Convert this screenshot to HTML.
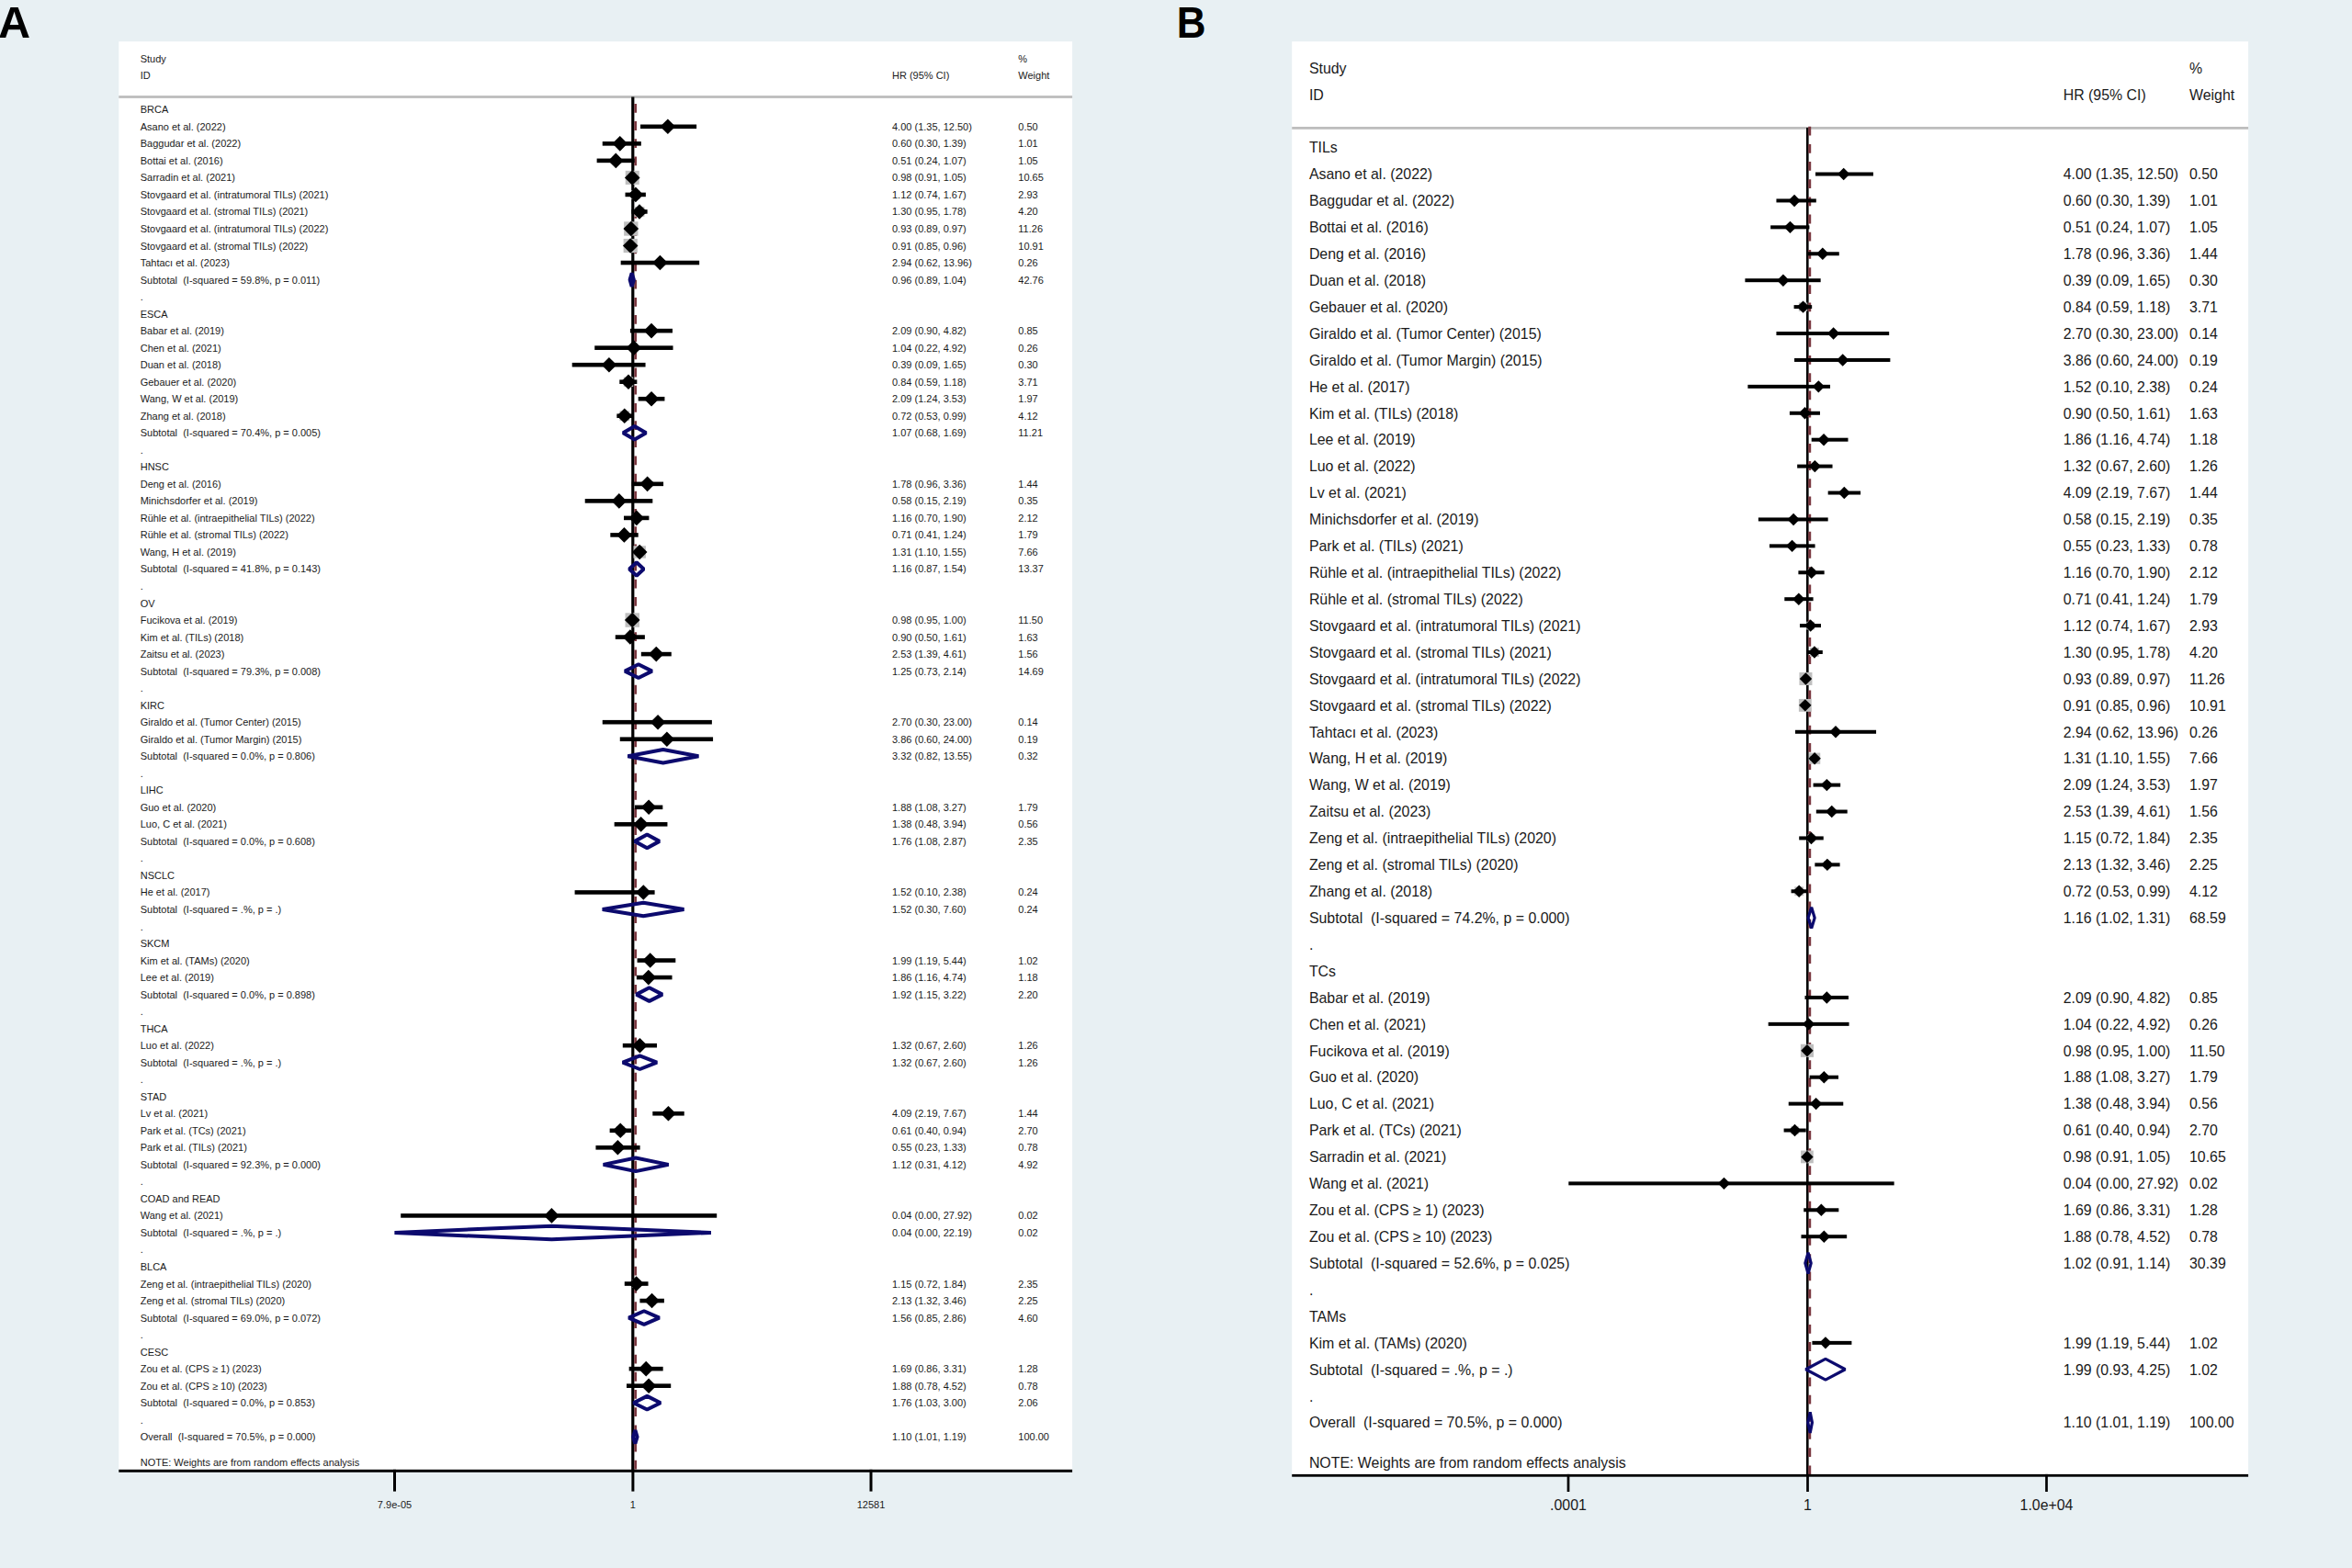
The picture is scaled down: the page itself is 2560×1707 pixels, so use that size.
<!DOCTYPE html>
<html><head><meta charset="utf-8"><title>Forest plot</title>
<style>html,body{margin:0;padding:0;background:#e8f0f3;}svg{display:block;}text{white-space:pre;}</style>
</head><body>
<svg width="2560" height="1707" viewBox="0 0 2560 1707" font-family="'Liberation Sans', sans-serif" fill="#1a1a1a" style="white-space:pre">
<rect width="2560" height="1707" fill="#e8f0f3"/>
<text transform="translate(-1.9 40.8)" font-size="48.6" font-weight="bold" fill="#000">A</text>
<text transform="translate(1280.7 40.9) scale(0.907 1)" font-size="48.5" font-weight="bold" fill="#000">B</text>
<rect x="129.3" y="45.2" width="1037.80" height="1555.80" fill="#fff"/>
<rect x="129.3" y="104.1" width="1037.80" height="2.8" fill="#bdbdbd"/>
<text x="152.7" y="67.6" font-size="11">Study</text>
<text x="152.7" y="85.8" font-size="11">ID</text>
<text x="971.0" y="85.8" font-size="11">HR (95% CI)</text>
<text x="1108.3" y="67.6" font-size="11">%</text>
<text x="1108.3" y="85.8" font-size="11">Weight</text>
<rect x="687.20" y="105.5" width="3.2" height="1495.50" fill="#000"/>
<line x1="691.67" y1="105.0" x2="691.67" y2="1601.0" stroke="#7a3840" stroke-width="2.8" stroke-dasharray="9.8 9.38" stroke-dashoffset="11.28"/>
<rect x="724.28" y="135.24" width="5.16" height="5.16" fill="#bfbfbf"/>
<rect x="671.47" y="153.05" width="6.60" height="6.60" fill="#bfbfbf"/>
<rect x="666.97" y="171.53" width="6.69" height="6.69" fill="#bfbfbf"/>
<rect x="680.72" y="185.87" width="15.06" height="15.06" fill="#bfbfbf"/>
<rect x="687.12" y="207.13" width="9.59" height="9.59" fill="#bfbfbf"/>
<rect x="690.57" y="225.01" width="10.87" height="10.87" fill="#bfbfbf"/>
<rect x="679.13" y="241.30" width="15.36" height="15.36" fill="#bfbfbf"/>
<rect x="678.62" y="259.91" width="15.19" height="15.19" fill="#bfbfbf"/>
<rect x="716.35" y="283.97" width="4.11" height="4.11" fill="#bfbfbf"/>
<rect x="705.93" y="357.02" width="6.22" height="6.22" fill="#bfbfbf"/>
<rect x="687.82" y="376.60" width="4.11" height="4.11" fill="#bfbfbf"/>
<rect x="660.79" y="395.02" width="4.32" height="4.32" fill="#bfbfbf"/>
<rect x="678.81" y="410.49" width="10.41" height="10.41" fill="#bfbfbf"/>
<rect x="704.87" y="430.05" width="8.34" height="8.34" fill="#bfbfbf"/>
<rect x="674.38" y="447.35" width="10.80" height="10.80" fill="#bfbfbf"/>
<rect x="700.89" y="523.11" width="7.48" height="7.48" fill="#bfbfbf"/>
<rect x="671.57" y="543.10" width="4.56" height="4.56" fill="#bfbfbf"/>
<rect x="688.60" y="559.62" width="8.56" height="8.56" fill="#bfbfbf"/>
<rect x="675.36" y="578.39" width="8.07" height="8.07" fill="#bfbfbf"/>
<rect x="689.50" y="594.24" width="13.42" height="13.42" fill="#bfbfbf"/>
<rect x="680.51" y="667.32" width="15.47" height="15.47" fill="#bfbfbf"/>
<rect x="682.00" y="689.67" width="7.81" height="7.81" fill="#bfbfbf"/>
<rect x="710.44" y="708.26" width="7.69" height="7.69" fill="#bfbfbf"/>
<rect x="714.42" y="784.55" width="3.31" height="3.31" fill="#bfbfbf"/>
<rect x="724.04" y="802.89" width="3.68" height="3.68" fill="#bfbfbf"/>
<rect x="702.10" y="874.79" width="8.07" height="8.07" fill="#bfbfbf"/>
<rect x="694.96" y="894.66" width="5.37" height="5.37" fill="#bfbfbf"/>
<rect x="698.30" y="969.45" width="3.99" height="3.99" fill="#bfbfbf"/>
<rect x="704.38" y="1042.24" width="6.63" height="6.63" fill="#bfbfbf"/>
<rect x="702.35" y="1060.59" width="6.97" height="6.97" fill="#bfbfbf"/>
<rect x="692.86" y="1134.61" width="7.13" height="7.13" fill="#bfbfbf"/>
<rect x="723.73" y="1208.54" width="7.48" height="7.48" fill="#bfbfbf"/>
<rect x="670.57" y="1226.14" width="9.32" height="9.32" fill="#bfbfbf"/>
<rect x="669.37" y="1246.31" width="6.03" height="6.03" fill="#bfbfbf"/>
<rect x="599.59" y="1322.59" width="1.67" height="1.67" fill="#bfbfbf"/>
<rect x="688.20" y="1393.09" width="8.87" height="8.87" fill="#bfbfbf"/>
<rect x="705.19" y="1411.68" width="8.74" height="8.74" fill="#bfbfbf"/>
<rect x="699.62" y="1486.56" width="7.17" height="7.17" fill="#bfbfbf"/>
<rect x="703.12" y="1505.66" width="6.03" height="6.03" fill="#bfbfbf"/>
<rect x="697.04" y="135.52" width="61.10" height="4.6" fill="#000"/>
<rect x="655.74" y="154.05" width="42.10" height="4.6" fill="#000"/>
<rect x="649.62" y="172.57" width="41.04" height="4.6" fill="#000"/>
<rect x="686.21" y="191.10" width="3.93" height="4.6" fill="#000"/>
<rect x="680.53" y="209.62" width="22.35" height="4.6" fill="#000"/>
<rect x="687.39" y="228.15" width="17.24" height="4.6" fill="#000"/>
<rect x="685.60" y="246.67" width="2.36" height="4.6" fill="#000"/>
<rect x="684.34" y="265.20" width="3.34" height="4.6" fill="#000"/>
<rect x="675.68" y="283.72" width="85.50" height="4.6" fill="#000"/>
<rect x="685.91" y="357.82" width="46.07" height="4.6" fill="#000"/>
<rect x="647.23" y="376.35" width="85.31" height="4.6" fill="#000"/>
<rect x="622.69" y="394.88" width="79.86" height="4.6" fill="#000"/>
<rect x="674.31" y="413.40" width="19.03" height="4.6" fill="#000"/>
<rect x="694.71" y="431.92" width="28.72" height="4.6" fill="#000"/>
<rect x="671.37" y="450.45" width="17.15" height="4.6" fill="#000"/>
<rect x="687.68" y="524.55" width="34.39" height="4.6" fill="#000"/>
<rect x="636.71" y="543.08" width="73.61" height="4.6" fill="#000"/>
<rect x="679.01" y="561.60" width="27.41" height="4.6" fill="#000"/>
<rect x="664.32" y="580.12" width="30.38" height="4.6" fill="#000"/>
<rect x="691.42" y="598.65" width="9.42" height="4.6" fill="#000"/>
<rect x="687.39" y="672.75" width="1.41" height="4.6" fill="#000"/>
<rect x="669.77" y="691.27" width="32.11" height="4.6" fill="#000"/>
<rect x="697.84" y="709.80" width="32.92" height="4.6" fill="#000"/>
<rect x="655.74" y="783.90" width="119.14" height="4.6" fill="#000"/>
<rect x="674.78" y="802.42" width="101.28" height="4.6" fill="#000"/>
<rect x="690.91" y="876.52" width="30.42" height="4.6" fill="#000"/>
<rect x="668.65" y="895.05" width="57.80" height="4.6" fill="#000"/>
<rect x="625.58" y="969.15" width="87.02" height="4.6" fill="#000"/>
<rect x="693.58" y="1043.25" width="41.73" height="4.6" fill="#000"/>
<rect x="692.87" y="1061.78" width="38.65" height="4.6" fill="#000"/>
<rect x="677.80" y="1135.88" width="37.23" height="4.6" fill="#000"/>
<rect x="710.32" y="1209.97" width="34.41" height="4.6" fill="#000"/>
<rect x="663.64" y="1228.50" width="23.46" height="4.6" fill="#000"/>
<rect x="648.45" y="1247.02" width="48.18" height="4.6" fill="#000"/>
<rect x="436.20" y="1321.12" width="344.00" height="4.6" fill="#000"/>
<rect x="679.78" y="1395.22" width="25.76" height="4.6" fill="#000"/>
<rect x="696.42" y="1413.75" width="26.46" height="4.6" fill="#000"/>
<rect x="684.66" y="1487.85" width="37.00" height="4.6" fill="#000"/>
<rect x="681.98" y="1506.38" width="48.24" height="4.6" fill="#000"/>
<path d="M726.86 129.52L735.16 137.82L726.86 146.12L718.56 137.82Z" fill="#000"/>
<path d="M674.78 148.05L683.08 156.35L674.78 164.65L666.48 156.35Z" fill="#000"/>
<path d="M670.31 166.57L678.61 174.88L670.31 183.18L662.01 174.88Z" fill="#000"/>
<path d="M688.25 185.10L696.55 193.40L688.25 201.70L679.95 193.40Z" fill="#000"/>
<path d="M691.91 203.62L700.21 211.93L691.91 220.23L683.61 211.93Z" fill="#000"/>
<path d="M696.00 222.15L704.30 230.45L696.00 238.75L687.70 230.45Z" fill="#000"/>
<path d="M686.81 240.67L695.11 248.97L686.81 257.27L678.51 248.97Z" fill="#000"/>
<path d="M686.21 259.20L694.51 267.50L686.21 275.80L677.91 267.50Z" fill="#000"/>
<path d="M718.41 277.72L726.71 286.02L718.41 294.32L710.11 286.02Z" fill="#000"/>
<path d="M709.04 351.82L717.34 360.12L709.04 368.43L700.74 360.12Z" fill="#000"/>
<path d="M689.88 370.35L698.18 378.65L689.88 386.95L681.58 378.65Z" fill="#000"/>
<path d="M662.95 388.88L671.25 397.18L662.95 405.48L654.65 397.18Z" fill="#000"/>
<path d="M684.01 407.40L692.31 415.70L684.01 424.00L675.71 415.70Z" fill="#000"/>
<path d="M709.04 425.92L717.34 434.22L709.04 442.52L700.74 434.22Z" fill="#000"/>
<path d="M679.78 444.45L688.08 452.75L679.78 461.05L671.48 452.75Z" fill="#000"/>
<path d="M704.63 518.55L712.93 526.85L704.63 535.15L696.33 526.85Z" fill="#000"/>
<path d="M673.84 537.08L682.14 545.38L673.84 553.67L665.54 545.38Z" fill="#000"/>
<path d="M692.87 555.60L701.17 563.90L692.87 572.20L684.57 563.90Z" fill="#000"/>
<path d="M679.40 574.12L687.70 582.42L679.40 590.72L671.10 582.42Z" fill="#000"/>
<path d="M696.21 592.65L704.51 600.95L696.21 609.25L687.91 600.95Z" fill="#000"/>
<path d="M688.25 666.75L696.55 675.05L688.25 683.35L679.95 675.05Z" fill="#000"/>
<path d="M685.91 685.27L694.21 693.57L685.91 701.87L677.61 693.57Z" fill="#000"/>
<path d="M714.28 703.80L722.58 712.10L714.28 720.40L705.98 712.10Z" fill="#000"/>
<path d="M716.07 777.90L724.37 786.20L716.07 794.50L707.77 786.20Z" fill="#000"/>
<path d="M725.88 796.42L734.18 804.72L725.88 813.02L717.58 804.72Z" fill="#000"/>
<path d="M706.13 870.52L714.43 878.82L706.13 887.12L697.83 878.82Z" fill="#000"/>
<path d="M697.64 889.05L705.94 897.35L697.64 905.65L689.34 897.35Z" fill="#000"/>
<path d="M700.30 963.15L708.60 971.45L700.30 979.75L692.00 971.45Z" fill="#000"/>
<path d="M707.69 1037.25L715.99 1045.55L707.69 1053.85L699.39 1045.55Z" fill="#000"/>
<path d="M705.84 1055.78L714.14 1064.08L705.84 1072.38L697.54 1064.08Z" fill="#000"/>
<path d="M696.42 1129.88L704.72 1138.17L696.42 1146.47L688.12 1138.17Z" fill="#000"/>
<path d="M727.47 1203.97L735.77 1212.27L727.47 1220.57L719.17 1212.27Z" fill="#000"/>
<path d="M675.23 1222.50L683.53 1230.80L675.23 1239.10L666.93 1230.80Z" fill="#000"/>
<path d="M672.39 1241.02L680.69 1249.32L672.39 1257.62L664.09 1249.32Z" fill="#000"/>
<path d="M600.43 1315.12L608.73 1323.42L600.43 1331.72L592.13 1323.42Z" fill="#000"/>
<path d="M692.64 1389.22L700.94 1397.52L692.64 1405.82L684.34 1397.52Z" fill="#000"/>
<path d="M709.56 1407.75L717.86 1416.05L709.56 1424.35L701.26 1416.05Z" fill="#000"/>
<path d="M703.21 1481.85L711.51 1490.15L703.21 1498.45L694.91 1490.15Z" fill="#000"/>
<path d="M706.13 1500.38L714.43 1508.67L706.13 1516.97L697.83 1508.67Z" fill="#000"/>
<path d="M685.60 304.55L687.68 297.25L689.88 304.55L687.68 311.85Z" fill="none" stroke="#0c0a6e" stroke-width="4.0" stroke-linejoin="bevel"/>
<path d="M678.21 471.27L690.66 463.97L703.21 471.27L690.66 478.57Z" fill="none" stroke="#0c0a6e" stroke-width="4.0" stroke-linejoin="bevel"/>
<path d="M684.98 619.47L692.87 612.17L700.65 619.47L692.87 626.77Z" fill="none" stroke="#0c0a6e" stroke-width="4.0" stroke-linejoin="bevel"/>
<path d="M680.16 730.62L694.93 723.32L709.69 730.62L694.93 737.92Z" fill="none" stroke="#0c0a6e" stroke-width="4.0" stroke-linejoin="bevel"/>
<path d="M683.35 823.25L721.75 815.95L760.36 823.25L721.75 830.55Z" fill="none" stroke="#0c0a6e" stroke-width="4.0" stroke-linejoin="bevel"/>
<path d="M690.91 915.87L704.32 908.57L717.75 915.87L704.32 923.17Z" fill="none" stroke="#0c0a6e" stroke-width="4.0" stroke-linejoin="bevel"/>
<path d="M655.74 989.97L700.30 982.67L744.48 989.97L700.30 997.27Z" fill="none" stroke="#0c0a6e" stroke-width="4.0" stroke-linejoin="bevel"/>
<path d="M692.64 1082.60L706.71 1075.30L720.91 1082.60L706.71 1089.90Z" fill="none" stroke="#0c0a6e" stroke-width="4.0" stroke-linejoin="bevel"/>
<path d="M677.80 1156.70L696.42 1149.40L715.03 1156.70L696.42 1164.00Z" fill="none" stroke="#0c0a6e" stroke-width="4.0" stroke-linejoin="bevel"/>
<path d="M656.65 1267.85L691.91 1260.55L727.67 1267.85L691.91 1275.15Z" fill="none" stroke="#0c0a6e" stroke-width="4.0" stroke-linejoin="bevel"/>
<path d="M429.46 1341.95L600.43 1334.65L773.90 1341.95L600.43 1349.25Z" fill="none" stroke="#0c0a6e" stroke-width="4.0" stroke-linejoin="bevel"/>
<path d="M684.34 1434.57L701.01 1427.27L717.65 1434.57L701.01 1441.87Z" fill="none" stroke="#0c0a6e" stroke-width="4.0" stroke-linejoin="bevel"/>
<path d="M689.61 1527.20L704.32 1519.90L718.96 1527.20L704.32 1534.50Z" fill="none" stroke="#0c0a6e" stroke-width="4.0" stroke-linejoin="bevel"/>
<path d="M689.07 1564.25L691.42 1556.95L693.58 1564.25L691.42 1571.55Z" fill="none" stroke="#0c0a6e" stroke-width="4.0" stroke-linejoin="bevel"/>
<text x="152.7" y="123.30" font-size="11">BRCA</text>
<text x="152.7" y="141.82" font-size="11">Asano et al. (2022)</text>
<text x="971.0" y="141.82" font-size="11">4.00 (1.35, 12.50)</text>
<text x="1108.3" y="141.82" font-size="11">0.50</text>
<text x="152.7" y="160.35" font-size="11">Baggudar et al. (2022)</text>
<text x="971.0" y="160.35" font-size="11">0.60 (0.30, 1.39)</text>
<text x="1108.3" y="160.35" font-size="11">1.01</text>
<text x="152.7" y="178.88" font-size="11">Bottai et al. (2016)</text>
<text x="971.0" y="178.88" font-size="11">0.51 (0.24, 1.07)</text>
<text x="1108.3" y="178.88" font-size="11">1.05</text>
<text x="152.7" y="197.40" font-size="11">Sarradin et al. (2021)</text>
<text x="971.0" y="197.40" font-size="11">0.98 (0.91, 1.05)</text>
<text x="1108.3" y="197.40" font-size="11">10.65</text>
<text x="152.7" y="215.93" font-size="11">Stovgaard et al. (intratumoral TILs) (2021)</text>
<text x="971.0" y="215.93" font-size="11">1.12 (0.74, 1.67)</text>
<text x="1108.3" y="215.93" font-size="11">2.93</text>
<text x="152.7" y="234.45" font-size="11">Stovgaard et al. (stromal TILs) (2021)</text>
<text x="971.0" y="234.45" font-size="11">1.30 (0.95, 1.78)</text>
<text x="1108.3" y="234.45" font-size="11">4.20</text>
<text x="152.7" y="252.97" font-size="11">Stovgaard et al. (intratumoral TILs) (2022)</text>
<text x="971.0" y="252.97" font-size="11">0.93 (0.89, 0.97)</text>
<text x="1108.3" y="252.97" font-size="11">11.26</text>
<text x="152.7" y="271.50" font-size="11">Stovgaard et al. (stromal TILs) (2022)</text>
<text x="971.0" y="271.50" font-size="11">0.91 (0.85, 0.96)</text>
<text x="1108.3" y="271.50" font-size="11">10.91</text>
<text x="152.7" y="290.02" font-size="11">Tahtacı et al. (2023)</text>
<text x="971.0" y="290.02" font-size="11">2.94 (0.62, 13.96)</text>
<text x="1108.3" y="290.02" font-size="11">0.26</text>
<text x="152.7" y="308.55" font-size="11">Subtotal  (I-squared = 59.8%, p = 0.011)</text>
<text x="971.0" y="308.55" font-size="11">0.96 (0.89, 1.04)</text>
<text x="1108.3" y="308.55" font-size="11">42.76</text>
<text x="152.7" y="327.07" font-size="11">.</text>
<text x="152.7" y="345.60" font-size="11">ESCA</text>
<text x="152.7" y="364.12" font-size="11">Babar et al. (2019)</text>
<text x="971.0" y="364.12" font-size="11">2.09 (0.90, 4.82)</text>
<text x="1108.3" y="364.12" font-size="11">0.85</text>
<text x="152.7" y="382.65" font-size="11">Chen et al. (2021)</text>
<text x="971.0" y="382.65" font-size="11">1.04 (0.22, 4.92)</text>
<text x="1108.3" y="382.65" font-size="11">0.26</text>
<text x="152.7" y="401.18" font-size="11">Duan et al. (2018)</text>
<text x="971.0" y="401.18" font-size="11">0.39 (0.09, 1.65)</text>
<text x="1108.3" y="401.18" font-size="11">0.30</text>
<text x="152.7" y="419.70" font-size="11">Gebauer et al. (2020)</text>
<text x="971.0" y="419.70" font-size="11">0.84 (0.59, 1.18)</text>
<text x="1108.3" y="419.70" font-size="11">3.71</text>
<text x="152.7" y="438.22" font-size="11">Wang, W et al. (2019)</text>
<text x="971.0" y="438.22" font-size="11">2.09 (1.24, 3.53)</text>
<text x="1108.3" y="438.22" font-size="11">1.97</text>
<text x="152.7" y="456.75" font-size="11">Zhang et al. (2018)</text>
<text x="971.0" y="456.75" font-size="11">0.72 (0.53, 0.99)</text>
<text x="1108.3" y="456.75" font-size="11">4.12</text>
<text x="152.7" y="475.27" font-size="11">Subtotal  (I-squared = 70.4%, p = 0.005)</text>
<text x="971.0" y="475.27" font-size="11">1.07 (0.68, 1.69)</text>
<text x="1108.3" y="475.27" font-size="11">11.21</text>
<text x="152.7" y="493.80" font-size="11">.</text>
<text x="152.7" y="512.33" font-size="11">HNSC</text>
<text x="152.7" y="530.85" font-size="11">Deng et al. (2016)</text>
<text x="971.0" y="530.85" font-size="11">1.78 (0.96, 3.36)</text>
<text x="1108.3" y="530.85" font-size="11">1.44</text>
<text x="152.7" y="549.38" font-size="11">Minichsdorfer et al. (2019)</text>
<text x="971.0" y="549.38" font-size="11">0.58 (0.15, 2.19)</text>
<text x="1108.3" y="549.38" font-size="11">0.35</text>
<text x="152.7" y="567.90" font-size="11">Rühle et al. (intraepithelial TILs) (2022)</text>
<text x="971.0" y="567.90" font-size="11">1.16 (0.70, 1.90)</text>
<text x="1108.3" y="567.90" font-size="11">2.12</text>
<text x="152.7" y="586.42" font-size="11">Rühle et al. (stromal TILs) (2022)</text>
<text x="971.0" y="586.42" font-size="11">0.71 (0.41, 1.24)</text>
<text x="1108.3" y="586.42" font-size="11">1.79</text>
<text x="152.7" y="604.95" font-size="11">Wang, H et al. (2019)</text>
<text x="971.0" y="604.95" font-size="11">1.31 (1.10, 1.55)</text>
<text x="1108.3" y="604.95" font-size="11">7.66</text>
<text x="152.7" y="623.47" font-size="11">Subtotal  (I-squared = 41.8%, p = 0.143)</text>
<text x="971.0" y="623.47" font-size="11">1.16 (0.87, 1.54)</text>
<text x="1108.3" y="623.47" font-size="11">13.37</text>
<text x="152.7" y="642.00" font-size="11">.</text>
<text x="152.7" y="660.52" font-size="11">OV</text>
<text x="152.7" y="679.05" font-size="11">Fucikova et al. (2019)</text>
<text x="971.0" y="679.05" font-size="11">0.98 (0.95, 1.00)</text>
<text x="1108.3" y="679.05" font-size="11">11.50</text>
<text x="152.7" y="697.57" font-size="11">Kim et al. (TILs) (2018)</text>
<text x="971.0" y="697.57" font-size="11">0.90 (0.50, 1.61)</text>
<text x="1108.3" y="697.57" font-size="11">1.63</text>
<text x="152.7" y="716.10" font-size="11">Zaitsu et al. (2023)</text>
<text x="971.0" y="716.10" font-size="11">2.53 (1.39, 4.61)</text>
<text x="1108.3" y="716.10" font-size="11">1.56</text>
<text x="152.7" y="734.62" font-size="11">Subtotal  (I-squared = 79.3%, p = 0.008)</text>
<text x="971.0" y="734.62" font-size="11">1.25 (0.73, 2.14)</text>
<text x="1108.3" y="734.62" font-size="11">14.69</text>
<text x="152.7" y="753.15" font-size="11">.</text>
<text x="152.7" y="771.67" font-size="11">KIRC</text>
<text x="152.7" y="790.20" font-size="11">Giraldo et al. (Tumor Center) (2015)</text>
<text x="971.0" y="790.20" font-size="11">2.70 (0.30, 23.00)</text>
<text x="1108.3" y="790.20" font-size="11">0.14</text>
<text x="152.7" y="808.72" font-size="11">Giraldo et al. (Tumor Margin) (2015)</text>
<text x="971.0" y="808.72" font-size="11">3.86 (0.60, 24.00)</text>
<text x="1108.3" y="808.72" font-size="11">0.19</text>
<text x="152.7" y="827.25" font-size="11">Subtotal  (I-squared = 0.0%, p = 0.806)</text>
<text x="971.0" y="827.25" font-size="11">3.32 (0.82, 13.55)</text>
<text x="1108.3" y="827.25" font-size="11">0.32</text>
<text x="152.7" y="845.77" font-size="11">.</text>
<text x="152.7" y="864.30" font-size="11">LIHC</text>
<text x="152.7" y="882.82" font-size="11">Guo et al. (2020)</text>
<text x="971.0" y="882.82" font-size="11">1.88 (1.08, 3.27)</text>
<text x="1108.3" y="882.82" font-size="11">1.79</text>
<text x="152.7" y="901.35" font-size="11">Luo, C et al. (2021)</text>
<text x="971.0" y="901.35" font-size="11">1.38 (0.48, 3.94)</text>
<text x="1108.3" y="901.35" font-size="11">0.56</text>
<text x="152.7" y="919.87" font-size="11">Subtotal  (I-squared = 0.0%, p = 0.608)</text>
<text x="971.0" y="919.87" font-size="11">1.76 (1.08, 2.87)</text>
<text x="1108.3" y="919.87" font-size="11">2.35</text>
<text x="152.7" y="938.40" font-size="11">.</text>
<text x="152.7" y="956.92" font-size="11">NSCLC</text>
<text x="152.7" y="975.45" font-size="11">He et al. (2017)</text>
<text x="971.0" y="975.45" font-size="11">1.52 (0.10, 2.38)</text>
<text x="1108.3" y="975.45" font-size="11">0.24</text>
<text x="152.7" y="993.97" font-size="11">Subtotal  (I-squared = .%, p = .)</text>
<text x="971.0" y="993.97" font-size="11">1.52 (0.30, 7.60)</text>
<text x="1108.3" y="993.97" font-size="11">0.24</text>
<text x="152.7" y="1012.50" font-size="11">.</text>
<text x="152.7" y="1031.02" font-size="11">SKCM</text>
<text x="152.7" y="1049.55" font-size="11">Kim et al. (TAMs) (2020)</text>
<text x="971.0" y="1049.55" font-size="11">1.99 (1.19, 5.44)</text>
<text x="1108.3" y="1049.55" font-size="11">1.02</text>
<text x="152.7" y="1068.08" font-size="11">Lee et al. (2019)</text>
<text x="971.0" y="1068.08" font-size="11">1.86 (1.16, 4.74)</text>
<text x="1108.3" y="1068.08" font-size="11">1.18</text>
<text x="152.7" y="1086.60" font-size="11">Subtotal  (I-squared = 0.0%, p = 0.898)</text>
<text x="971.0" y="1086.60" font-size="11">1.92 (1.15, 3.22)</text>
<text x="1108.3" y="1086.60" font-size="11">2.20</text>
<text x="152.7" y="1105.12" font-size="11">.</text>
<text x="152.7" y="1123.65" font-size="11">THCA</text>
<text x="152.7" y="1142.17" font-size="11">Luo et al. (2022)</text>
<text x="971.0" y="1142.17" font-size="11">1.32 (0.67, 2.60)</text>
<text x="1108.3" y="1142.17" font-size="11">1.26</text>
<text x="152.7" y="1160.70" font-size="11">Subtotal  (I-squared = .%, p = .)</text>
<text x="971.0" y="1160.70" font-size="11">1.32 (0.67, 2.60)</text>
<text x="1108.3" y="1160.70" font-size="11">1.26</text>
<text x="152.7" y="1179.22" font-size="11">.</text>
<text x="152.7" y="1197.75" font-size="11">STAD</text>
<text x="152.7" y="1216.27" font-size="11">Lv et al. (2021)</text>
<text x="971.0" y="1216.27" font-size="11">4.09 (2.19, 7.67)</text>
<text x="1108.3" y="1216.27" font-size="11">1.44</text>
<text x="152.7" y="1234.80" font-size="11">Park et al. (TCs) (2021)</text>
<text x="971.0" y="1234.80" font-size="11">0.61 (0.40, 0.94)</text>
<text x="1108.3" y="1234.80" font-size="11">2.70</text>
<text x="152.7" y="1253.32" font-size="11">Park et al. (TILs) (2021)</text>
<text x="971.0" y="1253.32" font-size="11">0.55 (0.23, 1.33)</text>
<text x="1108.3" y="1253.32" font-size="11">0.78</text>
<text x="152.7" y="1271.85" font-size="11">Subtotal  (I-squared = 92.3%, p = 0.000)</text>
<text x="971.0" y="1271.85" font-size="11">1.12 (0.31, 4.12)</text>
<text x="1108.3" y="1271.85" font-size="11">4.92</text>
<text x="152.7" y="1290.37" font-size="11">.</text>
<text x="152.7" y="1308.90" font-size="11">COAD and READ</text>
<text x="152.7" y="1327.42" font-size="11">Wang et al. (2021)</text>
<text x="971.0" y="1327.42" font-size="11">0.04 (0.00, 27.92)</text>
<text x="1108.3" y="1327.42" font-size="11">0.02</text>
<text x="152.7" y="1345.95" font-size="11">Subtotal  (I-squared = .%, p = .)</text>
<text x="971.0" y="1345.95" font-size="11">0.04 (0.00, 22.19)</text>
<text x="1108.3" y="1345.95" font-size="11">0.02</text>
<text x="152.7" y="1364.47" font-size="11">.</text>
<text x="152.7" y="1383.00" font-size="11">BLCA</text>
<text x="152.7" y="1401.52" font-size="11">Zeng et al. (intraepithelial TILs) (2020)</text>
<text x="971.0" y="1401.52" font-size="11">1.15 (0.72, 1.84)</text>
<text x="1108.3" y="1401.52" font-size="11">2.35</text>
<text x="152.7" y="1420.05" font-size="11">Zeng et al. (stromal TILs) (2020)</text>
<text x="971.0" y="1420.05" font-size="11">2.13 (1.32, 3.46)</text>
<text x="1108.3" y="1420.05" font-size="11">2.25</text>
<text x="152.7" y="1438.57" font-size="11">Subtotal  (I-squared = 69.0%, p = 0.072)</text>
<text x="971.0" y="1438.57" font-size="11">1.56 (0.85, 2.86)</text>
<text x="1108.3" y="1438.57" font-size="11">4.60</text>
<text x="152.7" y="1457.10" font-size="11">.</text>
<text x="152.7" y="1475.62" font-size="11">CESC</text>
<text x="152.7" y="1494.15" font-size="11">Zou et al. (CPS ≥ 1) (2023)</text>
<text x="971.0" y="1494.15" font-size="11">1.69 (0.86, 3.31)</text>
<text x="1108.3" y="1494.15" font-size="11">1.28</text>
<text x="152.7" y="1512.67" font-size="11">Zou et al. (CPS ≥ 10) (2023)</text>
<text x="971.0" y="1512.67" font-size="11">1.88 (0.78, 4.52)</text>
<text x="1108.3" y="1512.67" font-size="11">0.78</text>
<text x="152.7" y="1531.20" font-size="11">Subtotal  (I-squared = 0.0%, p = 0.853)</text>
<text x="971.0" y="1531.20" font-size="11">1.76 (1.03, 3.00)</text>
<text x="1108.3" y="1531.20" font-size="11">2.06</text>
<text x="152.7" y="1549.72" font-size="11">.</text>
<text x="152.7" y="1568.25" font-size="11">Overall  (I-squared = 70.5%, p = 0.000)</text>
<text x="971.0" y="1568.25" font-size="11">1.10 (1.01, 1.19)</text>
<text x="1108.3" y="1568.25" font-size="11">100.00</text>
<text x="152.7" y="1596.04" font-size="11">NOTE: Weights are from random effects analysis</text>
<rect x="129.3" y="1599.8" width="1037.80" height="3.0" fill="#000"/>
<rect x="428.00" y="1599.8" width="3.0" height="23.80" fill="#000"/>
<text x="429.50" y="1642.2" font-size="11" text-anchor="middle">7.9e-05</text>
<rect x="687.40" y="1599.8" width="3.0" height="23.80" fill="#000"/>
<text x="688.90" y="1642.2" font-size="11" text-anchor="middle">1</text>
<rect x="946.50" y="1599.8" width="3.0" height="23.80" fill="#000"/>
<text x="948.00" y="1642.2" font-size="11" text-anchor="middle">12581</text>
<rect x="1406.2" y="45.2" width="1040.90" height="1560.80" fill="#fff"/>
<rect x="1406.2" y="138.0" width="1040.90" height="2.8" fill="#bdbdbd"/>
<text x="1424.9" y="79.8" font-size="15.9">Study</text>
<text x="1424.9" y="108.6" font-size="15.9">ID</text>
<text x="2245.7" y="108.6" font-size="15.9">HR (95% CI)</text>
<text x="2383.0" y="79.8" font-size="15.9">%</text>
<text x="2383.0" y="108.6" font-size="15.9">Weight</text>
<rect x="1966.00" y="139.0" width="2.6" height="1467.00" fill="#000"/>
<line x1="1969.70" y1="137.7" x2="1969.70" y2="1606.0" stroke="#7a3840" stroke-width="3.0" stroke-dasharray="9.8 9.38" stroke-dashoffset="0"/>
<rect x="2004.35" y="187.16" width="4.71" height="4.71" fill="#bfbfbf"/>
<rect x="1950.04" y="215.42" width="6.02" height="6.02" fill="#bfbfbf"/>
<rect x="1945.41" y="244.30" width="6.10" height="6.10" fill="#bfbfbf"/>
<rect x="1980.40" y="272.86" width="6.82" height="6.82" fill="#bfbfbf"/>
<rect x="1938.90" y="303.22" width="3.94" height="3.94" fill="#bfbfbf"/>
<rect x="1957.82" y="329.36" width="9.49" height="9.49" fill="#bfbfbf"/>
<rect x="1994.08" y="361.51" width="3.02" height="3.02" fill="#bfbfbf"/>
<rect x="2004.02" y="390.26" width="3.36" height="3.36" fill="#bfbfbf"/>
<rect x="1977.52" y="419.03" width="3.64" height="3.64" fill="#bfbfbf"/>
<rect x="1960.96" y="446.21" width="7.12" height="7.12" fill="#bfbfbf"/>
<rect x="1981.87" y="475.51" width="6.36" height="6.36" fill="#bfbfbf"/>
<rect x="1972.10" y="504.35" width="6.51" height="6.51" fill="#bfbfbf"/>
<rect x="2003.93" y="533.11" width="6.82" height="6.82" fill="#bfbfbf"/>
<rect x="1950.02" y="563.36" width="4.16" height="4.16" fill="#bfbfbf"/>
<rect x="1947.84" y="591.60" width="5.50" height="5.50" fill="#bfbfbf"/>
<rect x="1967.79" y="619.37" width="7.80" height="7.80" fill="#bfbfbf"/>
<rect x="1954.14" y="648.51" width="7.36" height="7.36" fill="#bfbfbf"/>
<rect x="1966.33" y="676.74" width="8.74" height="8.74" fill="#bfbfbf"/>
<rect x="1969.96" y="705.07" width="9.91" height="9.91" fill="#bfbfbf"/>
<rect x="1958.45" y="731.94" width="14.00" height="14.00" fill="#bfbfbf"/>
<rect x="1957.91" y="760.93" width="13.85" height="13.85" fill="#bfbfbf"/>
<rect x="1996.13" y="794.90" width="3.74" height="3.74" fill="#bfbfbf"/>
<rect x="1969.02" y="819.57" width="12.24" height="12.24" fill="#bfbfbf"/>
<rect x="1984.54" y="850.80" width="7.61" height="7.61" fill="#bfbfbf"/>
<rect x="1990.24" y="880.02" width="7.01" height="7.01" fill="#bfbfbf"/>
<rect x="1967.41" y="908.40" width="8.09" height="8.09" fill="#bfbfbf"/>
<rect x="1984.90" y="937.37" width="7.97" height="7.97" fill="#bfbfbf"/>
<rect x="1953.29" y="965.35" width="9.85" height="9.85" fill="#bfbfbf"/>
<rect x="1985.51" y="1083.11" width="5.67" height="5.67" fill="#bfbfbf"/>
<rect x="1966.74" y="1112.99" width="3.74" height="3.74" fill="#bfbfbf"/>
<rect x="1959.88" y="1136.73" width="14.11" height="14.11" fill="#bfbfbf"/>
<rect x="1981.67" y="1169.02" width="7.36" height="7.36" fill="#bfbfbf"/>
<rect x="1974.16" y="1199.16" width="4.90" height="4.90" fill="#bfbfbf"/>
<rect x="1949.27" y="1226.28" width="8.49" height="8.49" fill="#bfbfbf"/>
<rect x="1960.06" y="1252.58" width="13.73" height="13.73" fill="#bfbfbf"/>
<rect x="1875.71" y="1287.60" width="1.53" height="1.53" fill="#bfbfbf"/>
<rect x="1979.07" y="1314.01" width="6.54" height="6.54" fill="#bfbfbf"/>
<rect x="1982.60" y="1343.45" width="5.50" height="5.50" fill="#bfbfbf"/>
<rect x="1983.94" y="1458.84" width="6.04" height="6.04" fill="#bfbfbf"/>
<rect x="1975.99" y="187.52" width="62.94" height="4.0" fill="#000"/>
<rect x="1933.45" y="216.43" width="43.36" height="4.0" fill="#000"/>
<rect x="1927.14" y="245.35" width="42.27" height="4.0" fill="#000"/>
<rect x="1966.35" y="274.27" width="35.43" height="4.0" fill="#000"/>
<rect x="1899.40" y="303.19" width="82.26" height="4.0" fill="#000"/>
<rect x="1952.58" y="332.10" width="19.60" height="4.0" fill="#000"/>
<rect x="1933.45" y="361.02" width="122.72" height="4.0" fill="#000"/>
<rect x="1953.05" y="389.94" width="104.32" height="4.0" fill="#000"/>
<rect x="1902.38" y="418.85" width="89.64" height="4.0" fill="#000"/>
<rect x="1947.90" y="447.77" width="33.07" height="4.0" fill="#000"/>
<rect x="1971.70" y="476.69" width="39.81" height="4.0" fill="#000"/>
<rect x="1956.17" y="505.60" width="38.35" height="4.0" fill="#000"/>
<rect x="1989.67" y="534.52" width="35.45" height="4.0" fill="#000"/>
<rect x="1913.85" y="563.44" width="75.82" height="4.0" fill="#000"/>
<rect x="1925.94" y="592.36" width="49.63" height="4.0" fill="#000"/>
<rect x="1957.41" y="621.27" width="28.24" height="4.0" fill="#000"/>
<rect x="1942.29" y="650.19" width="31.30" height="4.0" fill="#000"/>
<rect x="1958.98" y="679.11" width="23.02" height="4.0" fill="#000"/>
<rect x="1966.05" y="708.02" width="17.76" height="4.0" fill="#000"/>
<rect x="1964.20" y="736.94" width="2.43" height="4.0" fill="#000"/>
<rect x="1962.90" y="765.86" width="3.44" height="4.0" fill="#000"/>
<rect x="1953.98" y="794.77" width="88.07" height="4.0" fill="#000"/>
<rect x="1970.20" y="823.69" width="9.70" height="4.0" fill="#000"/>
<rect x="1973.58" y="852.61" width="29.59" height="4.0" fill="#000"/>
<rect x="1976.81" y="881.53" width="33.91" height="4.0" fill="#000"/>
<rect x="1958.21" y="910.44" width="26.53" height="4.0" fill="#000"/>
<rect x="1975.35" y="939.36" width="27.25" height="4.0" fill="#000"/>
<rect x="1949.55" y="968.28" width="17.67" height="4.0" fill="#000"/>
<rect x="1964.52" y="1083.94" width="47.46" height="4.0" fill="#000"/>
<rect x="1924.68" y="1112.86" width="87.88" height="4.0" fill="#000"/>
<rect x="1966.05" y="1141.78" width="1.45" height="4.0" fill="#000"/>
<rect x="1969.68" y="1170.69" width="31.33" height="4.0" fill="#000"/>
<rect x="1946.74" y="1199.61" width="59.53" height="4.0" fill="#000"/>
<rect x="1941.59" y="1228.53" width="24.16" height="4.0" fill="#000"/>
<rect x="1964.83" y="1257.45" width="4.05" height="4.0" fill="#000"/>
<rect x="1707.31" y="1286.36" width="354.34" height="4.0" fill="#000"/>
<rect x="1963.23" y="1315.28" width="38.11" height="4.0" fill="#000"/>
<rect x="1960.47" y="1344.20" width="49.69" height="4.0" fill="#000"/>
<rect x="1972.42" y="1459.87" width="42.98" height="4.0" fill="#000"/>
<path d="M2006.70 182.82L2013.40 189.52L2006.70 196.22L2000.00 189.52Z" fill="#000"/>
<path d="M1953.05 211.73L1959.75 218.43L1953.05 225.13L1946.35 218.43Z" fill="#000"/>
<path d="M1948.46 240.65L1955.16 247.35L1948.46 254.05L1941.76 247.35Z" fill="#000"/>
<path d="M1983.81 269.57L1990.51 276.27L1983.81 282.97L1977.11 276.27Z" fill="#000"/>
<path d="M1940.87 298.49L1947.57 305.19L1940.87 311.88L1934.17 305.19Z" fill="#000"/>
<path d="M1962.57 327.40L1969.27 334.10L1962.57 340.80L1955.87 334.10Z" fill="#000"/>
<path d="M1995.59 356.32L2002.29 363.02L1995.59 369.72L1988.89 363.02Z" fill="#000"/>
<path d="M2005.70 385.24L2012.40 391.94L2005.70 398.64L1999.00 391.94Z" fill="#000"/>
<path d="M1979.34 414.15L1986.04 420.85L1979.34 427.55L1972.64 420.85Z" fill="#000"/>
<path d="M1964.52 443.07L1971.22 449.77L1964.52 456.47L1957.82 449.77Z" fill="#000"/>
<path d="M1985.05 471.99L1991.75 478.69L1985.05 485.39L1978.35 478.69Z" fill="#000"/>
<path d="M1975.35 500.90L1982.05 507.60L1975.35 514.30L1968.65 507.60Z" fill="#000"/>
<path d="M2007.33 529.82L2014.03 536.52L2007.33 543.22L2000.63 536.52Z" fill="#000"/>
<path d="M1952.10 558.74L1958.80 565.44L1952.10 572.14L1945.40 565.44Z" fill="#000"/>
<path d="M1950.59 587.65L1957.29 594.36L1950.59 601.06L1943.89 594.36Z" fill="#000"/>
<path d="M1971.70 616.57L1978.40 623.27L1971.70 629.97L1965.00 623.27Z" fill="#000"/>
<path d="M1957.81 645.49L1964.51 652.19L1957.81 658.89L1951.11 652.19Z" fill="#000"/>
<path d="M1970.70 674.41L1977.40 681.11L1970.70 687.81L1964.00 681.11Z" fill="#000"/>
<path d="M1974.92 703.32L1981.62 710.02L1974.92 716.72L1968.22 710.02Z" fill="#000"/>
<path d="M1965.45 732.24L1972.15 738.94L1965.45 745.64L1958.75 738.94Z" fill="#000"/>
<path d="M1964.83 761.16L1971.53 767.86L1964.83 774.56L1958.13 767.86Z" fill="#000"/>
<path d="M1998.00 790.07L2004.70 796.77L1998.00 803.47L1991.30 796.77Z" fill="#000"/>
<path d="M1975.14 818.99L1981.84 825.69L1975.14 832.39L1968.44 825.69Z" fill="#000"/>
<path d="M1988.35 847.91L1995.05 854.61L1988.35 861.31L1981.65 854.61Z" fill="#000"/>
<path d="M1993.75 876.83L2000.45 883.53L1993.75 890.23L1987.05 883.53Z" fill="#000"/>
<path d="M1971.45 905.74L1978.15 912.44L1971.45 919.14L1964.75 912.44Z" fill="#000"/>
<path d="M1988.88 934.66L1995.58 941.36L1988.88 948.06L1982.18 941.36Z" fill="#000"/>
<path d="M1958.21 963.58L1964.91 970.28L1958.21 976.98L1951.51 970.28Z" fill="#000"/>
<path d="M1988.35 1079.24L1995.05 1085.94L1988.35 1092.64L1981.65 1085.94Z" fill="#000"/>
<path d="M1968.61 1108.16L1975.31 1114.86L1968.61 1121.56L1961.91 1114.86Z" fill="#000"/>
<path d="M1966.93 1137.08L1973.63 1143.78L1966.93 1150.48L1960.23 1143.78Z" fill="#000"/>
<path d="M1985.35 1165.99L1992.05 1172.69L1985.35 1179.39L1978.65 1172.69Z" fill="#000"/>
<path d="M1976.61 1194.91L1983.31 1201.61L1976.61 1208.31L1969.91 1201.61Z" fill="#000"/>
<path d="M1953.52 1223.83L1960.22 1230.53L1953.52 1237.23L1946.82 1230.53Z" fill="#000"/>
<path d="M1966.93 1252.75L1973.63 1259.45L1966.93 1266.15L1960.23 1259.45Z" fill="#000"/>
<path d="M1876.47 1281.66L1883.17 1288.36L1876.47 1295.06L1869.77 1288.36Z" fill="#000"/>
<path d="M1982.34 1310.58L1989.04 1317.28L1982.34 1323.98L1975.64 1317.28Z" fill="#000"/>
<path d="M1985.35 1339.50L1992.05 1346.20L1985.35 1352.90L1978.65 1346.20Z" fill="#000"/>
<path d="M1986.96 1455.16L1993.66 1461.87L1986.96 1468.57L1980.26 1461.87Z" fill="#000"/>
<path d="M1968.06 999.19L1971.70 987.79L1975.14 999.19L1971.70 1010.59Z" fill="none" stroke="#0c0a6e" stroke-width="3.2" stroke-linejoin="bevel"/>
<path d="M1964.83 1375.11L1968.06 1363.71L1971.21 1375.11L1968.06 1386.51Z" fill="none" stroke="#0c0a6e" stroke-width="3.2" stroke-linejoin="bevel"/>
<path d="M1965.45 1490.78L1986.96 1479.38L2008.42 1490.78L1986.96 1502.18Z" fill="none" stroke="#0c0a6e" stroke-width="3.2" stroke-linejoin="bevel"/>
<path d="M1967.78 1548.62L1970.20 1537.22L1972.42 1548.62L1970.20 1560.02Z" fill="none" stroke="#0c0a6e" stroke-width="3.2" stroke-linejoin="bevel"/>
<text x="1424.9" y="166.40" font-size="15.9">TILs</text>
<text x="1424.9" y="195.32" font-size="15.9">Asano et al. (2022)</text>
<text x="2245.7" y="195.32" font-size="15.9">4.00 (1.35, 12.50)</text>
<text x="2383.0" y="195.32" font-size="15.9">0.50</text>
<text x="1424.9" y="224.23" font-size="15.9">Baggudar et al. (2022)</text>
<text x="2245.7" y="224.23" font-size="15.9">0.60 (0.30, 1.39)</text>
<text x="2383.0" y="224.23" font-size="15.9">1.01</text>
<text x="1424.9" y="253.15" font-size="15.9">Bottai et al. (2016)</text>
<text x="2245.7" y="253.15" font-size="15.9">0.51 (0.24, 1.07)</text>
<text x="2383.0" y="253.15" font-size="15.9">1.05</text>
<text x="1424.9" y="282.07" font-size="15.9">Deng et al. (2016)</text>
<text x="2245.7" y="282.07" font-size="15.9">1.78 (0.96, 3.36)</text>
<text x="2383.0" y="282.07" font-size="15.9">1.44</text>
<text x="1424.9" y="310.99" font-size="15.9">Duan et al. (2018)</text>
<text x="2245.7" y="310.99" font-size="15.9">0.39 (0.09, 1.65)</text>
<text x="2383.0" y="310.99" font-size="15.9">0.30</text>
<text x="1424.9" y="339.90" font-size="15.9">Gebauer et al. (2020)</text>
<text x="2245.7" y="339.90" font-size="15.9">0.84 (0.59, 1.18)</text>
<text x="2383.0" y="339.90" font-size="15.9">3.71</text>
<text x="1424.9" y="368.82" font-size="15.9">Giraldo et al. (Tumor Center) (2015)</text>
<text x="2245.7" y="368.82" font-size="15.9">2.70 (0.30, 23.00)</text>
<text x="2383.0" y="368.82" font-size="15.9">0.14</text>
<text x="1424.9" y="397.74" font-size="15.9">Giraldo et al. (Tumor Margin) (2015)</text>
<text x="2245.7" y="397.74" font-size="15.9">3.86 (0.60, 24.00)</text>
<text x="2383.0" y="397.74" font-size="15.9">0.19</text>
<text x="1424.9" y="426.65" font-size="15.9">He et al. (2017)</text>
<text x="2245.7" y="426.65" font-size="15.9">1.52 (0.10, 2.38)</text>
<text x="2383.0" y="426.65" font-size="15.9">0.24</text>
<text x="1424.9" y="455.57" font-size="15.9">Kim et al. (TILs) (2018)</text>
<text x="2245.7" y="455.57" font-size="15.9">0.90 (0.50, 1.61)</text>
<text x="2383.0" y="455.57" font-size="15.9">1.63</text>
<text x="1424.9" y="484.49" font-size="15.9">Lee et al. (2019)</text>
<text x="2245.7" y="484.49" font-size="15.9">1.86 (1.16, 4.74)</text>
<text x="2383.0" y="484.49" font-size="15.9">1.18</text>
<text x="1424.9" y="513.40" font-size="15.9">Luo et al. (2022)</text>
<text x="2245.7" y="513.40" font-size="15.9">1.32 (0.67, 2.60)</text>
<text x="2383.0" y="513.40" font-size="15.9">1.26</text>
<text x="1424.9" y="542.32" font-size="15.9">Lv et al. (2021)</text>
<text x="2245.7" y="542.32" font-size="15.9">4.09 (2.19, 7.67)</text>
<text x="2383.0" y="542.32" font-size="15.9">1.44</text>
<text x="1424.9" y="571.24" font-size="15.9">Minichsdorfer et al. (2019)</text>
<text x="2245.7" y="571.24" font-size="15.9">0.58 (0.15, 2.19)</text>
<text x="2383.0" y="571.24" font-size="15.9">0.35</text>
<text x="1424.9" y="600.15" font-size="15.9">Park et al. (TILs) (2021)</text>
<text x="2245.7" y="600.15" font-size="15.9">0.55 (0.23, 1.33)</text>
<text x="2383.0" y="600.15" font-size="15.9">0.78</text>
<text x="1424.9" y="629.07" font-size="15.9">Rühle et al. (intraepithelial TILs) (2022)</text>
<text x="2245.7" y="629.07" font-size="15.9">1.16 (0.70, 1.90)</text>
<text x="2383.0" y="629.07" font-size="15.9">2.12</text>
<text x="1424.9" y="657.99" font-size="15.9">Rühle et al. (stromal TILs) (2022)</text>
<text x="2245.7" y="657.99" font-size="15.9">0.71 (0.41, 1.24)</text>
<text x="2383.0" y="657.99" font-size="15.9">1.79</text>
<text x="1424.9" y="686.91" font-size="15.9">Stovgaard et al. (intratumoral TILs) (2021)</text>
<text x="2245.7" y="686.91" font-size="15.9">1.12 (0.74, 1.67)</text>
<text x="2383.0" y="686.91" font-size="15.9">2.93</text>
<text x="1424.9" y="715.82" font-size="15.9">Stovgaard et al. (stromal TILs) (2021)</text>
<text x="2245.7" y="715.82" font-size="15.9">1.30 (0.95, 1.78)</text>
<text x="2383.0" y="715.82" font-size="15.9">4.20</text>
<text x="1424.9" y="744.74" font-size="15.9">Stovgaard et al. (intratumoral TILs) (2022)</text>
<text x="2245.7" y="744.74" font-size="15.9">0.93 (0.89, 0.97)</text>
<text x="2383.0" y="744.74" font-size="15.9">11.26</text>
<text x="1424.9" y="773.66" font-size="15.9">Stovgaard et al. (stromal TILs) (2022)</text>
<text x="2245.7" y="773.66" font-size="15.9">0.91 (0.85, 0.96)</text>
<text x="2383.0" y="773.66" font-size="15.9">10.91</text>
<text x="1424.9" y="802.57" font-size="15.9">Tahtacı et al. (2023)</text>
<text x="2245.7" y="802.57" font-size="15.9">2.94 (0.62, 13.96)</text>
<text x="2383.0" y="802.57" font-size="15.9">0.26</text>
<text x="1424.9" y="831.49" font-size="15.9">Wang, H et al. (2019)</text>
<text x="2245.7" y="831.49" font-size="15.9">1.31 (1.10, 1.55)</text>
<text x="2383.0" y="831.49" font-size="15.9">7.66</text>
<text x="1424.9" y="860.41" font-size="15.9">Wang, W et al. (2019)</text>
<text x="2245.7" y="860.41" font-size="15.9">2.09 (1.24, 3.53)</text>
<text x="2383.0" y="860.41" font-size="15.9">1.97</text>
<text x="1424.9" y="889.33" font-size="15.9">Zaitsu et al. (2023)</text>
<text x="2245.7" y="889.33" font-size="15.9">2.53 (1.39, 4.61)</text>
<text x="2383.0" y="889.33" font-size="15.9">1.56</text>
<text x="1424.9" y="918.24" font-size="15.9">Zeng et al. (intraepithelial TILs) (2020)</text>
<text x="2245.7" y="918.24" font-size="15.9">1.15 (0.72, 1.84)</text>
<text x="2383.0" y="918.24" font-size="15.9">2.35</text>
<text x="1424.9" y="947.16" font-size="15.9">Zeng et al. (stromal TILs) (2020)</text>
<text x="2245.7" y="947.16" font-size="15.9">2.13 (1.32, 3.46)</text>
<text x="2383.0" y="947.16" font-size="15.9">2.25</text>
<text x="1424.9" y="976.08" font-size="15.9">Zhang et al. (2018)</text>
<text x="2245.7" y="976.08" font-size="15.9">0.72 (0.53, 0.99)</text>
<text x="2383.0" y="976.08" font-size="15.9">4.12</text>
<text x="1424.9" y="1004.99" font-size="15.9">Subtotal  (I-squared = 74.2%, p = 0.000)</text>
<text x="2245.7" y="1004.99" font-size="15.9">1.16 (1.02, 1.31)</text>
<text x="2383.0" y="1004.99" font-size="15.9">68.59</text>
<text x="1424.9" y="1033.91" font-size="15.9">.</text>
<text x="1424.9" y="1062.83" font-size="15.9">TCs</text>
<text x="1424.9" y="1091.74" font-size="15.9">Babar et al. (2019)</text>
<text x="2245.7" y="1091.74" font-size="15.9">2.09 (0.90, 4.82)</text>
<text x="2383.0" y="1091.74" font-size="15.9">0.85</text>
<text x="1424.9" y="1120.66" font-size="15.9">Chen et al. (2021)</text>
<text x="2245.7" y="1120.66" font-size="15.9">1.04 (0.22, 4.92)</text>
<text x="2383.0" y="1120.66" font-size="15.9">0.26</text>
<text x="1424.9" y="1149.58" font-size="15.9">Fucikova et al. (2019)</text>
<text x="2245.7" y="1149.58" font-size="15.9">0.98 (0.95, 1.00)</text>
<text x="2383.0" y="1149.58" font-size="15.9">11.50</text>
<text x="1424.9" y="1178.49" font-size="15.9">Guo et al. (2020)</text>
<text x="2245.7" y="1178.49" font-size="15.9">1.88 (1.08, 3.27)</text>
<text x="2383.0" y="1178.49" font-size="15.9">1.79</text>
<text x="1424.9" y="1207.41" font-size="15.9">Luo, C et al. (2021)</text>
<text x="2245.7" y="1207.41" font-size="15.9">1.38 (0.48, 3.94)</text>
<text x="2383.0" y="1207.41" font-size="15.9">0.56</text>
<text x="1424.9" y="1236.33" font-size="15.9">Park et al. (TCs) (2021)</text>
<text x="2245.7" y="1236.33" font-size="15.9">0.61 (0.40, 0.94)</text>
<text x="2383.0" y="1236.33" font-size="15.9">2.70</text>
<text x="1424.9" y="1265.25" font-size="15.9">Sarradin et al. (2021)</text>
<text x="2245.7" y="1265.25" font-size="15.9">0.98 (0.91, 1.05)</text>
<text x="2383.0" y="1265.25" font-size="15.9">10.65</text>
<text x="1424.9" y="1294.16" font-size="15.9">Wang et al. (2021)</text>
<text x="2245.7" y="1294.16" font-size="15.9">0.04 (0.00, 27.92)</text>
<text x="2383.0" y="1294.16" font-size="15.9">0.02</text>
<text x="1424.9" y="1323.08" font-size="15.9">Zou et al. (CPS ≥ 1) (2023)</text>
<text x="2245.7" y="1323.08" font-size="15.9">1.69 (0.86, 3.31)</text>
<text x="2383.0" y="1323.08" font-size="15.9">1.28</text>
<text x="1424.9" y="1352.00" font-size="15.9">Zou et al. (CPS ≥ 10) (2023)</text>
<text x="2245.7" y="1352.00" font-size="15.9">1.88 (0.78, 4.52)</text>
<text x="2383.0" y="1352.00" font-size="15.9">0.78</text>
<text x="1424.9" y="1380.91" font-size="15.9">Subtotal  (I-squared = 52.6%, p = 0.025)</text>
<text x="2245.7" y="1380.91" font-size="15.9">1.02 (0.91, 1.14)</text>
<text x="2383.0" y="1380.91" font-size="15.9">30.39</text>
<text x="1424.9" y="1409.83" font-size="15.9">.</text>
<text x="1424.9" y="1438.75" font-size="15.9">TAMs</text>
<text x="1424.9" y="1467.66" font-size="15.9">Kim et al. (TAMs) (2020)</text>
<text x="2245.7" y="1467.66" font-size="15.9">1.99 (1.19, 5.44)</text>
<text x="2383.0" y="1467.66" font-size="15.9">1.02</text>
<text x="1424.9" y="1496.58" font-size="15.9">Subtotal  (I-squared = .%, p = .)</text>
<text x="2245.7" y="1496.58" font-size="15.9">1.99 (0.93, 4.25)</text>
<text x="2383.0" y="1496.58" font-size="15.9">1.02</text>
<text x="1424.9" y="1525.50" font-size="15.9">.</text>
<text x="1424.9" y="1554.42" font-size="15.9">Overall  (I-squared = 70.5%, p = 0.000)</text>
<text x="2245.7" y="1554.42" font-size="15.9">1.10 (1.01, 1.19)</text>
<text x="2383.0" y="1554.42" font-size="15.9">100.00</text>
<text x="1424.9" y="1597.79" font-size="15.9">NOTE: Weights are from random effects analysis</text>
<rect x="1406.2" y="1604.9" width="1040.90" height="2.8" fill="#000"/>
<rect x="1705.65" y="1604.9" width="2.7" height="19.10" fill="#000"/>
<text x="1707.00" y="1644.0" font-size="15.9" text-anchor="middle">.0001</text>
<rect x="1966.15" y="1604.9" width="2.7" height="19.10" fill="#000"/>
<text x="1967.50" y="1644.0" font-size="15.9" text-anchor="middle">1</text>
<rect x="2226.15" y="1604.9" width="2.7" height="19.10" fill="#000"/>
<text x="2227.50" y="1644.0" font-size="15.9" text-anchor="middle">1.0e+04</text>
</svg>
</body></html>
